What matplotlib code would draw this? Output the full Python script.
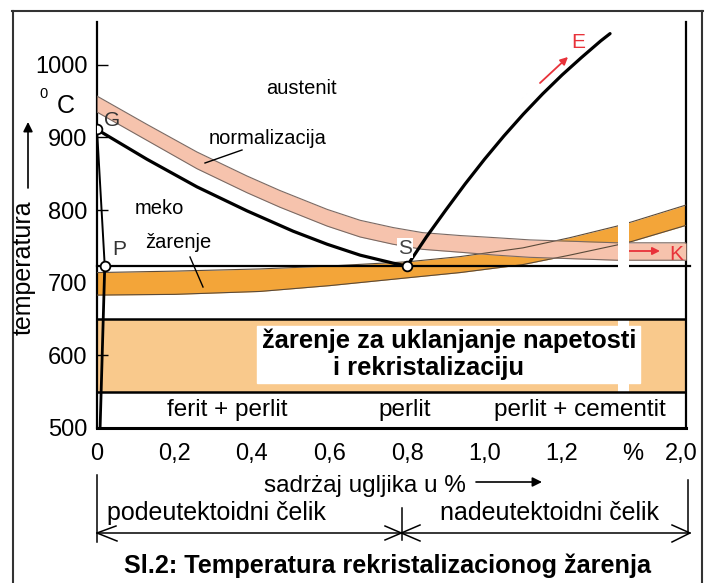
import matplotlib
matplotlib.use('Agg')
import matplotlib.pyplot as plt
from matplotlib.lines import Line2D
from matplotlib.patches import Rectangle

W, H = 709, 583
plt.rcParams['font.family'] = ['Liberation Sans', 'DejaVu Sans']

# ---------------- data ----------------
y_ticks = [500, 600, 700, 800, 900, 1000]
x_tick_pos = [0, 0.2, 0.4, 0.6, 0.8, 1.0, 1.2, 1.383, 1.507]
x_tick_labels = ['0', '0,2', '0,4', '0,6', '0,8', '1,0', '1,2', '%', '2,0']

# GS line (A3)
gs_c = [0, 0.129, 0.258, 0.387, 0.472, 0.506, 0.594, 0.679, 0.764, 0.8]
gs_t = [911, 870, 832, 799, 779, 771, 753, 738, 727, 723]
# SE line (Acm)
se_c = [0.8, 0.85, 0.9, 0.95, 1.0, 1.05, 1.1, 1.15, 1.2, 1.25, 1.3, 1.324]
se_t = [723, 763, 800, 836, 870, 902, 932, 960, 986, 1010, 1033, 1043]
# GP and PQ lines
gp_c = [0, 0.02]
gp_t = [911, 723]
pq_c = [0.02, 0.008]
pq_t = [723, 500]
a1_temp = 723
# normalization band
norm_c = [0, 0.129, 0.258, 0.387, 0.472, 0.594, 0.679, 0.764, 0.84, 0.937, 1.03, 1.117, 1.23, 1.342, 1.52]
norm_top = [957, 918, 880, 847, 827, 801, 786, 776, 769, 765, 762, 759, 757, 755, 755]
norm_bot = [935, 896, 857, 824, 804, 778, 763, 753, 746, 742, 738, 735, 733, 731, 731]
# soft annealing band
soft_c = [0, 0.2, 0.42, 0.6, 0.805, 0.937, 1.099, 1.22, 1.342, 1.381, 1.52]
soft_top = [714, 716, 719, 723, 729, 736, 748, 762, 778, 784, 807]
soft_bot = [683, 684, 688, 696, 707, 714, 725, 738, 752, 757, 779]
# stress relief / recrystallization band
stress_lo, stress_hi = 550, 650
# break in diagram
gap_c = [1.345, 1.373]
gap_t = [540, 792]
# points G, P, S
pts_c = [0, 0.02, 0.8]
pts_t = [911, 723, 723]

pink = '#F6C3AD'
orange = '#F3A539'
light = '#F9C98C'
red = '#E8323A'

fig = plt.figure(figsize=(W / 100, H / 100), dpi=100)
ax = fig.add_axes([97 / W, (H - 428) / H, 589 / W, 406 / H])
ax.set_xlim(0, 1.52)
ax.set_ylim(500, 1059)

ax.fill_between([0, 1.52], stress_lo, stress_hi, color=light, lw=0, zorder=1)
ax.fill_between(soft_c, soft_bot, soft_top, color=orange, lw=0, zorder=2)
ax.fill_between(norm_c, norm_bot, norm_top, color=pink, lw=0, zorder=3)
for c, t, col in [(soft_c, soft_top, '#5a4a3a'), (soft_c, soft_bot, '#5a4a3a'),
                  (norm_c, norm_top, '#7a6a64'), (norm_c, norm_bot, '#7a6a64')]:
    ax.plot(c, t, color=col, lw=0.8, zorder=4, solid_joinstyle='round')

ax.plot([0, 1.53], [a1_temp, a1_temp], color='black', lw=1.6, zorder=5, clip_on=False)
ax.fill_between(gap_c, gap_t[0], gap_t[1], color='white', lw=0, zorder=6)
ax.plot([0, 1.52], [stress_hi, stress_hi], color='black', lw=1.8, zorder=7)
ax.plot([0, 1.52], [stress_lo, stress_lo], color='black', lw=1.8, zorder=7)

ax.plot(gs_c, gs_t, color='black', lw=2.3, zorder=8, solid_capstyle='round', solid_joinstyle='round')
ax.plot(se_c, se_t, color='black', lw=2.3, zorder=8, solid_capstyle='round', solid_joinstyle='round')
ax.plot(gp_c, gp_t, color='black', lw=1.4, zorder=8)
ax.plot(pq_c, pq_t, color='black', lw=2.0, zorder=8)
ax.plot(pts_c, pts_t, ls='none', marker='o', ms=7, mfc='white', mec='black', mew=1.3, zorder=9)

ax.spines['top'].set_visible(False)
ax.spines['left'].set_linewidth(1.6)
ax.spines['right'].set_linewidth(1.6)
ax.spines['bottom'].set_linewidth(2.2)
ax.set_yticks(y_ticks)
ax.set_yticklabels([str(v) for v in y_ticks])
ax.set_xticks(x_tick_pos)
ax.set_xticklabels(x_tick_labels)
ax.tick_params(axis='y', direction='in', length=8, width=1, pad=7, labelsize=17)
ax.tick_params(axis='x', length=0, pad=11, labelsize=17)
ax.set_facecolor('white')


def fx(px):
    return px / W


def fy(py):
    return 1 - py / H


def txt(px, py, s, **kw):
    kw.setdefault('ha', 'center')
    kw.setdefault('va', 'center')
    fig.text(fx(px), fy(py), s, **kw)


def line(pts, **kw):
    kw.setdefault('color', 'black')
    kw.setdefault('lw', 1.1)
    fig.add_artist(Line2D([fx(p[0]) for p in pts], [fy(p[1]) for p in pts],
                          transform=fig.transFigure, **kw))


def arrow(p1, p2, color, lw=1.5, ms=12):
    ax.annotate('', xy=(fx(p2[0]), fy(p2[1])), xytext=(fx(p1[0]), fy(p1[1])),
                xycoords='figure fraction', textcoords='figure fraction',
                arrowprops=dict(arrowstyle='-|>', color=color, lw=lw,
                                mutation_scale=ms, shrinkA=0, shrinkB=0))


fig.add_artist(Rectangle((fx(257), fy(383)), (640 - 257) / W, 57 / H,
                         transform=fig.transFigure, color='white', zorder=3))
txt(449, 341, 'žarenje za uklanjanje napetosti', fontsize=18.4, fontweight='bold', zorder=4)
txt(429, 368, 'i rekristalizaciju', fontsize=18.4, fontweight='bold', zorder=4)

txt(301, 89, 'austenit', fontsize=14.5)
txt(268, 139, 'normalizacija', fontsize=14.5)
txt(159, 209, 'meko', fontsize=14.5)
txt(178, 242, 'žarenje', fontsize=14.5)
line([(242, 150), (205, 163)], lw=1.0)
line([(190, 257), (203, 287)], lw=1.0)
txt(112, 121, 'G', fontsize=15, color='#333333')
txt(119, 250, 'P', fontsize=15, color='#333333')
fig.text(fx(405), fy(248), 'S', fontsize=15, color='#444444', ha='center', va='center',
         bbox=dict(facecolor='white', edgecolor='none', pad=0.5), zorder=5)
txt(578, 43, 'E', fontsize=15, color=red)
txt(676, 255, 'K', fontsize=15, color=red)
arrow((540, 83), (568, 57), red, lw=1.3, ms=11)
arrow((623, 251), (660, 251), red, lw=1.3, ms=11)

txt(227, 410, 'ferit + perlit', fontsize=17.5)
txt(405, 410, 'perlit', fontsize=17.5)
txt(580, 410, 'perlit + cementit', fontsize=17.5)

txt(44, 94, '0', fontsize=10.5)
txt(66, 106, 'C', fontsize=18)
txt(24, 268, 'temperatura', fontsize=18, rotation=90)
arrow((28, 188), (28, 122), 'black', lw=1.2, ms=14)

txt(365, 486, 'sadrżaj ugljika u %', fontsize=17.5)
arrow((476, 482), (542, 482), 'black', lw=1.2, ms=14)

line([(97, 475), (97, 542)])
line([(97, 533), (690, 533)])
line([(116, 526), (97, 533), (117, 541)])
line([(402, 508), (402, 540)])
line([(385, 526), (420, 541)])
line([(420, 525), (385, 540)])
line([(672, 525), (690, 533), (672, 542)])
line([(688, 480), (688, 533)])
txt(216, 513, 'podeutektoidni čelik', fontsize=18)
txt(550, 513, 'nadeutektoidni čelik', fontsize=18)

txt(387, 566, 'Sl.2: Temperatura rekristalizacionog žarenja', fontsize=18.2, fontweight='bold')

line([(13, 11), (13, 583)], color='#333333', lw=1.5)
line([(12, 11), (703, 11)], color='#333333', lw=1.5)
line([(702, 11), (702, 583)], color='#333333', lw=1.5)

fig.savefig('out.png', dpi=100)
